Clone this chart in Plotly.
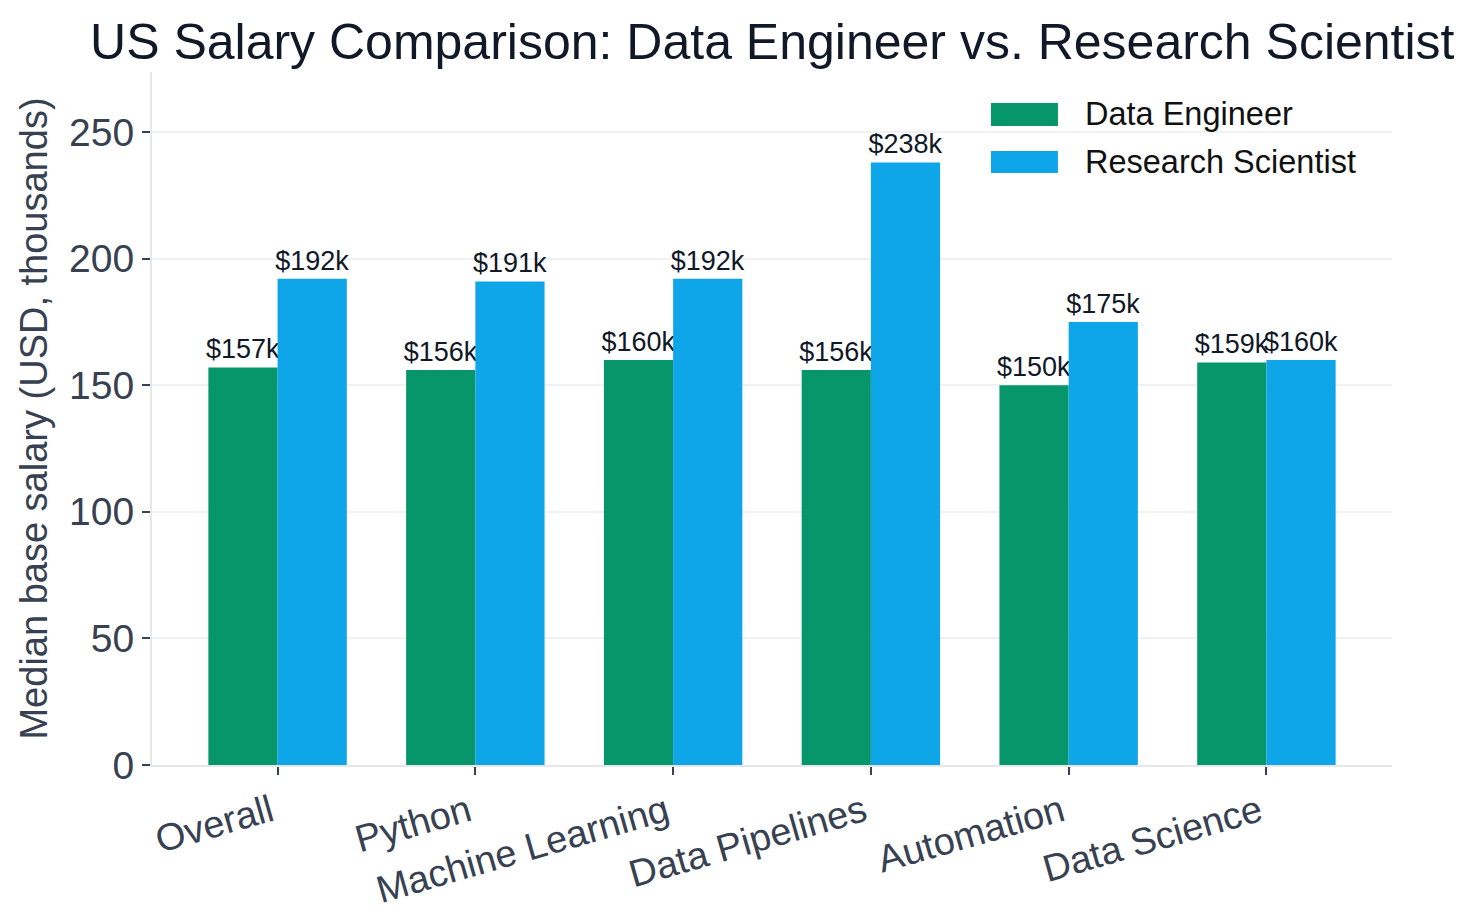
import plotly.graph_objects as go

categories = ["Overall", "Python", "Machine Learning", "Data Pipelines", "Automation", "Data Science"]
data_engineer = [157, 156, 160, 156, 150, 159]
research_scientist = [192, 191, 192, 238, 175, 160]
series_names = ["Data Engineer", "Research Scientist"]
colors = ["#069669", "#0EA5E9"]
y_ticks = [0, 50, 100, 150, 200, 250]

FONT = "Liberation Sans, Helvetica, Arial, sans-serif"

fig = go.Figure()
for name, vals, col in zip(series_names, [data_engineer, research_scientist], colors):
    fig.add_trace(go.Bar(
        x=categories, y=vals, name=name,
        marker=dict(color=col, line=dict(width=0)),
        text=[f"${v}k" for v in vals],
        textposition="outside",
        textfont=dict(size=27, color="#111827", family=FONT),
        constraintext="none",
        cliponaxis=False,
        showlegend=False,
    ))

ymax = max(max(data_engineer), max(research_scientist)) * 1.15

# custom legend (large rectangular swatches)
legend_y = [(0.9221, 0.9553), (0.8543, 0.886)]
for (y0, y1), name, col in zip(legend_y, series_names, colors):
    fig.add_shape(type="rect", xref="paper", yref="paper",
                  x0=0.6766, x1=0.7306, y0=y0, y1=y1,
                  fillcolor=col, line=dict(width=0))
    fig.add_annotation(xref="paper", yref="paper", x=0.7508, y=(y0 + y1) / 2,
                       xanchor="left", yanchor="middle", showarrow=False,
                       text=name, font=dict(size=32.5, color="#111111", family=FONT))

fig.update_layout(
    width=1471, height=920,
    margin=dict(l=152, r=79, t=72, b=155, autoexpand=False),
    paper_bgcolor="white", plot_bgcolor="white",
    barmode="group", bargap=0.3, bargroupgap=0,
    font=dict(family=FONT, color="#374151"),
    title=dict(
        text="US Salary Comparison: Data Engineer vs. Research Scientist",
        x=0.525, xanchor="center", y=0.955, yanchor="middle",
        font=dict(size=50, color="#111827", family=FONT),
    ),
    showlegend=False,
)

fig.update_xaxes(
    type="category",
    range=[-0.635, len(categories) - 1 + 0.635],
    automargin=False,
    showgrid=False,
    showline=True, linecolor="#E5E7EB", linewidth=2,
    ticks="outside", ticklen=8, tickwidth=2, tickcolor="#374151",
    tickangle=-16,
    ticklabelshift=-7,
    tickfont=dict(size=38, color="#374151", family=FONT),
    zeroline=False,
)

fig.update_yaxes(
    range=[0, ymax],
    automargin=False,
    tickvals=y_ticks,
    showgrid=True, gridcolor="#F0F1F4", gridwidth=2,
    showline=True, linecolor="#E5E7EB", linewidth=2,
    ticks="outside", ticklen=8, tickwidth=2, tickcolor="#374151",
    tickfont=dict(size=39, color="#374151", family=FONT),
    zeroline=False,
    title=dict(text="Median base salary (USD, thousands)",
               font=dict(size=38, color="#374151", family=FONT), standoff=10),
)

fig.write_html("out.html")
